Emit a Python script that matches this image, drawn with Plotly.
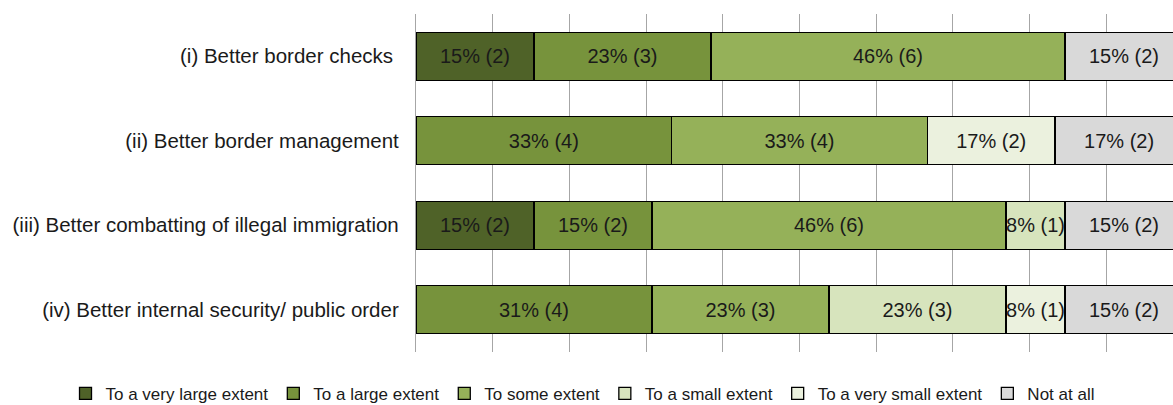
import plotly.graph_objects as go

categories = [
    "(i) Better border checks\u00a0",
    "(ii) Better border management",
    "(iii) Better combatting of illegal immigration",
    "(iv) Better internal security/ public order",
]
series_names = [
    "To a very large extent",
    "To a large extent",
    "To some extent",
    "To a small extent",
    "To a very small extent",
    "Not at all",
]
very_large = [2, 0, 2, 0]
large = [3, 4, 2, 4]
some = [6, 4, 6, 3]
small = [0, 0, 1, 3]
very_small = [0, 2, 0, 1]
not_at_all = [2, 2, 2, 2]
colors = ["#4f6228", "#77933c", "#95b159", "#d7e4bd", "#ebf1de", "#d9d9d9"]

all_counts = [very_large, large, some, small, very_small, not_at_all]
totals = [sum(s[i] for s in all_counts) for i in range(len(categories))]

FONT = "Liberation Sans, Arial, sans-serif"
fig = go.Figure()
for name, counts, col in zip(series_names, all_counts, colors):
    pct = [c / t * 100 for c, t in zip(counts, totals)]
    text = [f"{round(p)}% ({c})" if c else "" for p, c in zip(pct, counts)]
    fig.add_trace(go.Bar(
        y=categories, x=pct, name=name, orientation="h",
        marker=dict(color=col, line=dict(color="#000000", width=1.3)),
        text=text, textposition="inside", insidetextanchor="middle",
        textangle=0, constraintext="none",
        textfont=dict(family=FONT, size=20, color="#1a1a1a"),
        hoverinfo="skip",
    ))

fig.update_layout(
    barmode="stack", bargap=0.43,
    width=1173, height=405,
    margin=dict(l=416, r=0, t=14, b=53, autoexpand=False),
    paper_bgcolor="white", plot_bgcolor="white",
    font=dict(family=FONT, size=20, color="#1a1a1a"),
    showlegend=True,
    legend=dict(
        orientation="h", x=-0.463, xanchor="left", y=-0.124, yanchor="middle",
        font=dict(family=FONT, size=17, color="#1a1a1a"),
        itemwidth=30, traceorder="normal", tracegroupgap=0,
        bgcolor="rgba(0,0,0,0)",
    ),
    xaxis=dict(
        range=[0, 98.7], dtick=10, showticklabels=False,
        showgrid=True, gridcolor="#a6a6a6", gridwidth=1.3,
        zeroline=False, showline=False, fixedrange=True,
    ),
    yaxis=dict(
        categoryorder="array", categoryarray=categories, autorange="reversed",
        showline=True, linecolor="#a6a6a6", linewidth=1.3,
        ticks="", ticklabelstandoff=12,
        tickfont=dict(family=FONT, size=20.5, color="#1a1a1a"),
    ),
)
fig.write_html("out.html")
